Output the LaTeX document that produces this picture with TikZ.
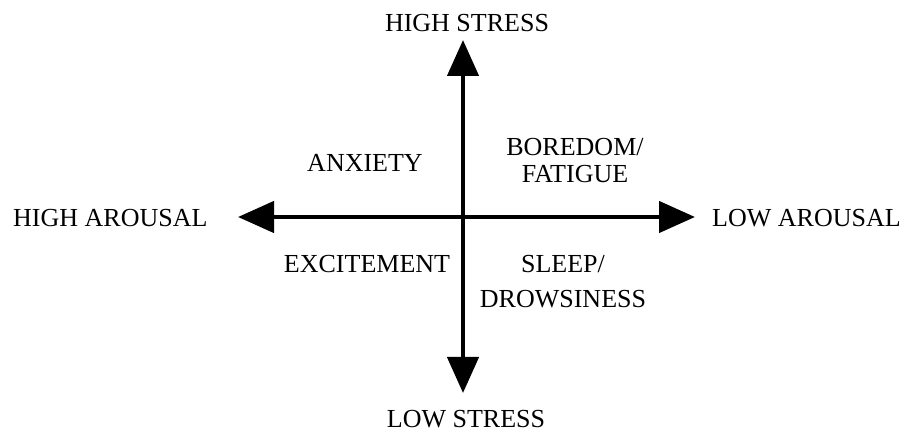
\documentclass[tikz,border=0pt]{standalone}
\usepackage{fontspec}
\setmainfont{Liberation Serif}
\usetikzlibrary{arrows.meta}
\begin{document}
\begin{tikzpicture}[x=1pt,y=1pt,
  lbl/.style={inner sep=0pt,font=\fontsize{26}{27}\selectfont},
  axis/.style={line width=4.5pt,{Triangle[length=36pt,width=31pt]}-{Triangle[length=36pt,width=31pt]}}]
\useasboundingbox (0,0) rectangle (911,439);
\coordinate (top) at (463,399);
\coordinate (bot) at (463,46);
\coordinate (lft) at (238,222);
\coordinate (rgt) at (695,222);
\draw[axis] (bot) -- (top);
\draw[axis] (lft) -- (rgt);
\node[lbl,anchor=base] (hs) at (467,407) {HIGH STRESS};
\node[lbl,anchor=base] (ls) at (466,11) {LOW STRESS};
\node[lbl,anchor=base west] (ha) at (13,212) {HIGH AROUSAL};
\node[lbl,anchor=base west] (la) at (712,212) {LOW AROUSAL};
\node[lbl,anchor=base] (anx) at (365,267) {ANXIETY};
\node[lbl,anchor=base,align=center] (bor) at (575,256) {BOREDOM/\\FATIGUE};
\node[lbl,anchor=base] (exc) at (367,166) {EXCITEMENT};
\node[lbl,anchor=base,align=center,font=\fontsize{26}{35}\selectfont] (slp) at (563,131) {SLEEP/\\DROWSINESS};
\end{tikzpicture}
\end{document}
